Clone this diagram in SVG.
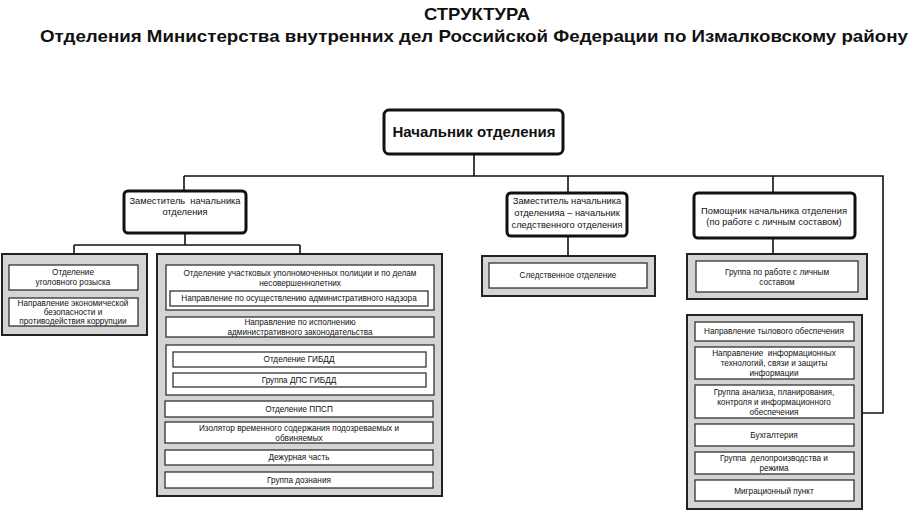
<svg xmlns="http://www.w3.org/2000/svg" width="912" height="512" viewBox="0 0 912 512">
<style>
text{font-family:"Liberation Sans",Arial,sans-serif;fill:#111;text-anchor:middle;white-space:pre}
.t{font-weight:bold;font-size:17px}
.s{font-size:8.2px}
.d{font-size:9.3px}
.head{fill:#fff;stroke:#111;stroke-width:3}
.panel{fill:#d4d4d4;stroke:#222;stroke-width:2}
.box{fill:#fff;stroke:#333;stroke-width:1.3}
.conn{fill:none;stroke:#111;stroke-width:1.6}
</style>
<rect width="912" height="512" fill="#fff"/>
<text class="t" x="477" y="20" textLength="106" lengthAdjust="spacingAndGlyphs">СТРУКТУРА</text>
<text class="t" x="474" y="42" textLength="868" lengthAdjust="spacingAndGlyphs">Отделения Министерства внутренних дел Российской Федерации по Измалковскому району</text>

<g id="connectors">
<path class="conn" d="M474 154V176M184 176H883V413H862M184 176V191M568 176V193M773 176V193"/>
<path class="conn" d="M185 233V245M74 245H300M74 245V254M300 245V254"/>
<path class="conn" d="M568 236V256M773 238V254"/>
</g>

<g id="chief">
<rect class="head" x="384" y="110" width="179" height="44" rx="5"/>
<text x="474" y="137" style="font-weight:bold;font-size:15px">Начальник отделения</text>
</g>

<g id="deputy1">
<rect class="head" x="124" y="191" width="122" height="42" rx="4"/>
<text class="d" x="185" y="204" xml:space="preserve">Заместитель  начальника</text>
<text class="d" x="185" y="215">отделения</text>
</g>

<g id="deputy2">
<rect class="head" x="507" y="193" width="120" height="43" rx="4"/>
<text class="d" x="567" y="204">Заместитель начальника</text>
<text class="d" x="567" y="216">отделенияа – начальник</text>
<text class="d" x="567" y="228">следственного отделения</text>
</g>

<g id="assistant">
<rect class="head" x="694" y="193" width="161" height="45" rx="4"/>
<text class="d" x="774" y="214">Помощник начальника отделения</text>
<text class="d" x="774" y="225">(по работе с личным составом)</text>
</g>

<g id="panel-left">
<rect class="panel" x="2" y="254" width="145" height="81"/>
<rect class="box" x="9" y="265" width="129" height="25"/>
<text class="s" x="73" y="275">Отделение</text>
<text class="s" x="73" y="285">уголовного розыска</text>
<rect class="box" x="9" y="298" width="129" height="28"/>
<text class="s" x="73" y="306">Направление экономической</text>
<text class="s" x="73" y="315">безопасности и</text>
<text class="s" x="73" y="324">противодействия коррупции</text>
</g>

<g id="panel-mid">
<rect class="panel" x="157" y="254" width="285" height="242"/>
<rect class="box" x="166" y="265" width="268" height="45"/>
<text class="s" x="300" y="276">Отделение участковых уполномоченных полиции и по делам</text>
<text class="s" x="300" y="286">несовершеннолетних</text>
<rect class="box" x="170" y="291" width="258" height="15"/>
<text class="s" x="299" y="301">Направление по осуществлению административного надзора</text>
<rect class="box" x="166" y="317" width="268" height="20"/>
<text class="s" x="300" y="325">Направление по исполнению</text>
<text class="s" x="300" y="335">административного законодательства</text>
<rect class="box" x="166" y="345" width="268" height="50"/>
<rect class="box" x="173" y="352" width="253" height="15"/>
<text class="s" x="299" y="362">Отделение ГИБДД</text>
<rect class="box" x="173" y="373" width="253" height="14"/>
<text class="s" x="299" y="383">Группа ДПС ГИБДД</text>
<rect class="box" x="165" y="401" width="268" height="16"/>
<text class="s" x="299" y="412">Отделение ППСП</text>
<rect class="box" x="165" y="422" width="268" height="21"/>
<text class="s" x="299" y="431">Изолятор временного содержания подозреваемых и</text>
<text class="s" x="299" y="441">обвиняемых</text>
<rect class="box" x="165" y="450" width="268" height="15"/>
<text class="s" x="299" y="460">Дежурная часть</text>
<rect class="box" x="165" y="472" width="268" height="16"/>
<text class="s" x="299" y="483">Группа дознания</text>
</g>

<g id="panel-investigation">
<rect class="panel" x="482" y="256" width="173" height="40"/>
<rect class="box" x="489" y="263" width="158" height="25"/>
<text class="s" x="568" y="278">Следственное отделение</text>
</g>

<g id="panel-personnel">
<rect class="panel" x="687" y="254" width="180" height="45"/>
<rect class="box" x="696" y="261" width="162" height="31"/>
<text class="s" x="777" y="275">Группа по работе с личным</text>
<text class="s" x="777" y="285">составом</text>
</g>

<g id="panel-right">
<rect class="panel" x="687" y="315" width="175" height="194"/>
<rect class="box" x="695" y="322" width="159" height="19"/>
<text class="s" x="774" y="334">Направление тылового обеспечения</text>
<rect class="box" x="695" y="347" width="159" height="32"/>
<text class="s" x="774" y="356" xml:space="preserve">Направление  информационных</text>
<text class="s" x="774" y="366">технологий, связи и защиты</text>
<text class="s" x="774" y="376">информации</text>
<rect class="box" x="695" y="385" width="159" height="33"/>
<text class="s" x="774" y="395">Группа анализа, планирования,</text>
<text class="s" x="774" y="405">контроля и информационного</text>
<text class="s" x="774" y="415">обеспечения</text>
<rect class="box" x="695" y="424" width="159" height="22"/>
<text class="s" x="774" y="438">Бухгалтерия</text>
<rect class="box" x="695" y="452" width="159" height="22"/>
<text class="s" x="774" y="461" xml:space="preserve">Группа  делопроизводства и</text>
<text class="s" x="774" y="471">режима</text>
<rect class="box" x="695" y="480" width="159" height="21"/>
<text class="s" x="774" y="494">Миграционный пункт</text>
</g>
</svg>
